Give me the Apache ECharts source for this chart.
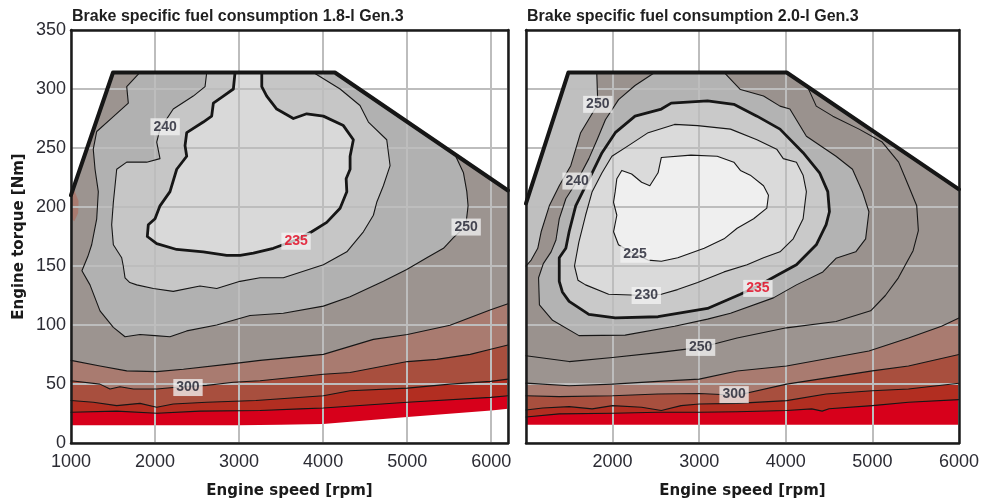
<!DOCTYPE html>
<html>
<head>
<meta charset="utf-8">
<script src="https://cdn.jsdelivr.net/npm/echarts@6/dist/echarts.min.js"></script>
<style>
  html, body { margin: 0; padding: 0; background: #ffffff; }
  #chart { width: 982px; height: 504px; }
</style>
</head>
<body>
<div id="chart"></div>
<script>
// Axis ticks
const speedTicks = [1000, 2000, 3000, 4000, 5000, 6000];
const torqueTicks = [0, 50, 100, 150, 200, 250, 300, 350];

// ---------- 1.8-l Gen.3 : [engine speed rpm, torque Nm] ----------
const g18FullLoad = [[1000,210],[1500,314],[4140,314],[6200,214]];
const g18Floor = [[1000,15],[2000,15],[3000,15],[3500,15.5],[4000,16],[5000,22],[6000,27.5],[6200,29]];
const g18LineA = [[1000,26],[1544,27],[2020,25.2],[2535,27],[3250,27.5],[3725,28.9],[4003,29.7],[5003,34.5],[5994,38.7],[6200,40]];
const g18LineB = [[1000,36],[1266,34.5],[1544,31.7],[1821,33.6],[2020,30.3],[2217,33.1],[2615,34.5],[3200,36],[4003,40.1],[4320,44.3],[5003,46.5],[5510,49.9],[5994,52.2],[6200,54.1]];
const g18Line300 = [[1000,52.7],[1345,49.9],[1464,45.7],[1583,47.7],[1742,45.7],[2020,45.7],[2217,47],[2615,48.8],[2931,51.5],[3250,52.7],[4003,58.3],[4320,59.7],[5003,69],[5352,70.9],[5750,75.1],[5994,79.4],[6200,83]];
const g18LineD = [[1000,70],[1345,65.3],[1663,61.1],[2020,60.5],[2337,62.5],[2931,67.3],[3250,70],[4003,75.1],[4598,87.8],[5003,92],[5510,99.8],[5994,113],[6200,118]];
const g18Line250 = [[1821,314],[1663,302],[1682,288],[1464,274],[1306,264],[1265,249],[1286,232],[1325,213],[1306,190],[1246,168],[1200,158],[1130,146],[1226,134],[1345,112],[1504,98],[1643,90],[1821,92],[2000,91],[2178,90],[2377,95],[2734,100],[3130,108],[3527,110],[4003,116],[4320,124],[4717,137],[4995,147],[5234,157],[5432,165],[5551,174],[5640,180],[5702,187],[5725,201],[5710,213],[5670,229],[5571,244]];
const g18Line240 = [[2615,314],[2595,302],[2455,294],[2217,283],[2059,266],[2020,255],[2059,241],[1901,238],[1663,238],[1544,232],[1524,218],[1504,204],[1484,185],[1504,168],[1603,157],[1622,150],[1643,140],[1700,136],[1782,134],[1980,131],[2217,128.5],[2535,133],[2734,131],[3011,137],[3250,140],[3527,140],[4003,151],[4282,162],[4479,179],[4598,193],[4638,204],[4717,218],[4797,235],[4757,257],[4539,272],[4439,286],[4202,300],[3884,314]];
const g18Line235 = [[2952,314],[2932,300],[2813,294],[2694,288],[2674,277],[2574,272],[2377,263],[2357,252],[2377,243],[2258,232],[2178,213],[2059,201],[2000,190],[1920,185],[1908,175],[2020,169],[2258,164],[2574,162],[2853,159],[3012,159],[3170,161],[3408,165],[3678,172],[3864,179],[4043,187],[4202,199],[4282,213],[4274,224],[4321,232],[4321,243],[4360,257],[4241,269],[4003,277],[3805,279],[3646,275],[3448,283],[3329,294],[3270,302],[3270,314]];
const g18Patch = [[1000,216],[1040,214],[1090,205],[1085,195],[1040,188],[1000,190]];
const g18Labels = [[2120,268,'240'],[3678,171,'235'],[5702,183,'250'],[2392,47,'300']];

// ---------- 2.0-l Gen.3 ----------
const g20FullLoad = [[1000,203],[1490,314],[4010,314],[6000,215]];
const g20Floor = [[1000,15.5],[6000,15.5]];
const g20LineA = [[1000,22],[1384,24.7],[2000,25.2],[2525,26],[3000,26],[3438,26.5],[4009,27.5],[4300,28.9],[4420,27],[4500,29],[4999,31.7],[5417,34.5],[6000,36.8]];
const g20LineB = [[1000,28],[1193,29.7],[1498,30.8],[1764,28.9],[2000,31.7],[2335,30.3],[2563,27.5],[2791,31.7],[3001,33.1],[3438,33.6],[4009,35.9],[4466,41.5],[4999,44.3],[5417,45.7],[6000,50.7]];
const g20Line300 = [[1000,40],[1384,39.3],[2000,40],[2525,41.5],[3001,42],[3438,40.5],[4009,49.9],[4999,61.1],[5417,65.3],[6000,75]];
const g20LineD = [[1000,50.7],[1193,49.9],[1498,48.5],[2000,49.9],[2525,52.2],[3001,54.1],[3438,61],[4009,65.3],[4960,78],[5417,89],[5798,99],[6000,106]];
const g20Line250Low = [[1000,74],[1498,69],[2000,72.4],[2525,76.6],[3016,81],[3438,89],[4009,97.6],[4580,103],[4980,112],[5150,125],[5300,140],[5470,163],[5531,180],[5512,201],[5417,218],[5303,238],[5113,255],[4846,266],[4543,277],[4352,285.5],[4250,302]];
const g20Line250High = [[1817,314],[1829,287],[1631,263],[1517,235],[1384,218],[1269,201],[1175,179],[1136,165],[1060,155],[1000,150]];
const g20Line240 = [[2487,314],[2259,303],[2069,291],[1917,274],[1821,257],[1726,241],[1590,222],[1460,207],[1384,190],[1346,172],[1290,162],[1200,152],[1145,140],[1155,117],[1307,104],[1612,91],[2145,91.4],[2716,99],[3096,105],[3362,110],[3857,123],[4123,134],[4428,145],[4580,156.5],[4808,162],[4922,173],[4960,196],[4885,213],[4770,232],[4580,243],[4238,260],[4047,283],[3933,285.5],[3743,294],[3476,299.5],[3287,314]];
const g20Line235 = [[1384,137],[1384,157],[1460,165],[1498,179],[1574,201],[1688,218],[1764,229],[1878,246],[2031,263],[2259,277],[2563,283],[2677,288],[3096,290],[3400,287],[3667,277],[3933,266],[4200,246],[4390,229],[4485,213],[4504,196],[4466,185],[4352,168],[4123,151],[3895,142],[3678,133],[3476,126],[3096,114],[2525,107],[2031,106],[1726,109],[1498,120],[1420,128]];
const g20Line230 = [[1560,150],[1600,138],[1688,134],[1954,126],[2389,125],[2563,126],[2750,130],[2982,136],[3287,145],[3553,151],[3743,157],[3933,162],[4086,173],[4200,190],[4238,213],[4200,227],[4123,238],[3971,241],[3895,249],[3667,257],[3362,266],[2982,269],[2716,270],[2411,263],[2183,252],[1992,243],[1878,229],[1764,213],[1688,193],[1610,170]];
const g20Line225 = [[2563,242],[2905,244],[3208,243],[3400,238],[3476,231],[3590,227],[3743,218],[3800,210],[3781,199],[3629,190],[3438,182],[3287,173],[3058,165],[2753,157],[2563,154],[2411,155],[2259,160],[2068,168],[2011,179],[2049,193],[2011,204],[2030,213],[2049,224],[2106,231],[2220,228],[2335,221],[2430,218],[2525,229]];
const g20Labels = [[1829,287,'250'],[1590,222,'240'],[2259,160,'225'],[2389,125,'230'],[3678,131,'235'],[3016,81,'250'],[3403,41,'300']];

// ---------- colours ----------
const C = {
  red: '#d7001b', darkRed: '#b22e21', brick: '#a84f3e', rose: '#a97b70',
  taupe: '#9c9490', taupe2: '#9a928e', g250: '#b1b1b1', g240: '#c6c6c6', g235: '#d9d9d9',
  corner: '#bfbfbf', h240: '#b3b3b3', h235: '#c9c9c9', h230: '#dadada', h225: '#efefef',
  white: '#ffffff', ink: '#161616'
};
const labelFont = "'Liberation Sans','Arial',sans-serif";
const textFont = "'Liberation Sans','Arial',sans-serif";
const nameFont = "'DejaVu Sans',sans-serif";

const closed = pts => pts.concat([pts[0]]);

function regions18() {
  const x0 = 1000, x1 = 6200, top = 350;
  return [
    { fill: C.red, pts: [[x0,0],[x1,0],[x1,top],[x0,top]] },
    { fill: C.darkRed, pts: g18LineA.concat([[x1,top],[x0,top]]) },
    { fill: C.brick, pts: g18LineB.concat([[x1,top],[x0,top]]) },
    { fill: C.rose, pts: g18Line300.concat([[x1,top],[x0,top]]) },
    { fill: C.taupe, pts: g18LineD.concat([[x1,top],[x0,top]]) },
    { fill: C.g250, pts: g18Line250.concat([[5571,340],[1821,340]]) },
    { fill: C.g240, pts: g18Line240.concat([[3884,340],[2615,340]]) },
    { fill: C.g235, pts: g18Line235.concat([[3270,340],[2952,340]]) },
    { fill: C.rose, pts: g18Patch },
    { fill: C.white, pts: g18FullLoad.concat([[x1,top],[x0,top]]) },
    { fill: C.white, pts: g18Floor.concat([[x1,0],[x0,0]]) }
  ];
}
function regions20() {
  const x0 = 1000, x1 = 6000, top = 350;
  return [
    { fill: C.red, pts: [[x0,0],[x1,0],[x1,top],[x0,top]] },
    { fill: C.darkRed, pts: g20LineA.concat([[x1,top],[x0,top]]) },
    { fill: C.brick, pts: g20LineB.concat([[x1,top],[x0,top]]) },
    { fill: C.rose, pts: g20Line300.concat([[x1,top],[x0,top]]) },
    { fill: C.taupe, pts: g20LineD.concat([[x1,top],[x0,top]]) },
    { fill: C.corner, pts: g20Line250High.concat([[1000,340],[1817,340]]) },
    { fill: C.taupe2, pts: g20Line250High.concat(g20Line250Low, [[4250,340],[1817,340]]) },
    { fill: C.h240, pts: g20Line240.concat([[3287,340],[2487,340]]) },
    { fill: C.h235, pts: g20Line235 },
    { fill: C.h230, pts: g20Line230 },
    { fill: C.h225, pts: g20Line225 },
    { fill: C.white, pts: g20FullLoad.concat([[x1,top],[x0,top]]) },
    { fill: C.white, pts: g20Floor.concat([[x1,0],[x0,0]]) }
  ];
}

function fillSeries(idx, regions) {
  return {
    type: 'custom', xAxisIndex: idx, yAxisIndex: idx, z: 1, silent: true, clip: true,
    data: regions.map((r, i) => [r.pts[0][0], r.pts[0][1], i]),
    encode: { x: 0, y: 1 },
    renderItem: (params, api) => {
      const r = regions[params.dataIndex];
      return { type: 'polygon', shape: { points: r.pts.map(p => api.coord(p)) }, style: { fill: r.fill } };
    }
  };
}
function lineSeries(idx, pts, width) {
  return {
    type: 'line', xAxisIndex: idx, yAxisIndex: idx, z: 4, silent: true,
    data: pts, showSymbol: false, symbol: 'none',
    lineStyle: { color: C.ink, width: width, join: 'round', cap: 'round' }
  };
}
function labelSeries(idx, labels) {
  return {
    type: 'scatter', xAxisIndex: idx, yAxisIndex: idx, z: 6, silent: true,
    symbolSize: 1, itemStyle: { color: 'rgba(0,0,0,0)' },
    data: labels.map(l => ({
      name: l[2], value: [l[0], l[1]],
      label: { color: l[2] === '235' ? '#e2001a' : '#1b1d2c' }
    })),
    label: {
      show: true, position: 'inside', formatter: '{b}',
      fontFamily: labelFont, fontWeight: 'bold', fontSize: 14,
      backgroundColor: 'rgba(243,243,243,0.95)', padding: [2, 3, 1, 3]
    }
  };
}

const axisInk = { color: '#1b1b1b', width: 2.5 };
const tickText = { fontFamily: textFont, fontSize: 18, color: '#2b2b33' };
const nameText = { fontFamily: nameFont, fontWeight: 'bold', fontSize: 15, color: '#1a1a1a' };

function speedAxis(grid, max, hideFirst) {
  return {
    gridIndex: grid, type: 'value', min: 1000, max: max, interval: 1000, position: 'bottom', z: 3,
    axisLine: { show: true, onZero: false, lineStyle: axisInk },
    axisTick: { show: false },
    splitLine: { show: true, lineStyle: { color: '#bdbdbd', width: 2 } },
    axisLabel: Object.assign({ margin: 10, formatter: v => (speedTicks.includes(v) && !(hideFirst && v === 1000)) ? String(v) : '' }, tickText),
    name: 'Engine speed [rpm]', nameLocation: 'middle', nameGap: 41, nameTextStyle: nameText
  };
}
function frameX(grid, max) {
  return { gridIndex: grid, type: 'value', min: 1000, max: max, position: 'top', z: 5,
    axisLine: { show: true, onZero: false, lineStyle: axisInk }, axisTick: { show: false },
    axisLabel: { show: false }, splitLine: { show: false } };
}
function torqueAxis(grid, showLabels) {
  return {
    gridIndex: grid, type: 'value', min: 0, max: 350, interval: 50, position: 'left', z: 3,
    axisLine: { show: true, onZero: false, lineStyle: axisInk },
    axisTick: { show: false },
    splitLine: { show: true, lineStyle: { color: '#bdbdbd', width: 2 } },
    axisLabel: Object.assign({ show: showLabels, margin: 5, formatter: v => torqueTicks.includes(v) ? String(v) : '' }, tickText),
    name: showLabels ? 'Engine torque [Nm]' : '', nameLocation: 'middle', nameGap: 44, nameTextStyle: nameText
  };
}
function frameY(grid) {
  return { gridIndex: grid, type: 'value', min: 0, max: 350, position: 'right', z: 5,
    axisLine: { show: true, onZero: false, lineStyle: axisInk }, axisTick: { show: false },
    axisLabel: { show: false }, splitLine: { show: false } };
}

const chart = echarts.init(document.getElementById('chart'), null, { renderer: 'canvas' });
chart.setOption({
  animation: false,
  backgroundColor: '#ffffff',
  title: [
    { text: 'Brake specific fuel consumption 1.8-l Gen.3', left: 67, top: 4,
      textStyle: { fontFamily: textFont, fontSize: 16, fontWeight: 'bold', color: '#1f1f1f' } },
    { text: 'Brake specific fuel consumption 2.0-l Gen.3', left: 522, top: 4,
      textStyle: { fontFamily: textFont, fontSize: 16, fontWeight: 'bold', color: '#1f1f1f' } }
  ],
  grid: [
    { left: 71, top: 30, width: 437, height: 416 },
    { left: 526, top: 30, width: 438, height: 416 }
  ],
  xAxis: [speedAxis(0, 6200, false), speedAxis(1, 6000, true), frameX(0, 6200), frameX(1, 6000)],
  yAxis: [torqueAxis(0, true), torqueAxis(1, false), frameY(0), frameY(1)],
  series: [
    fillSeries(0, regions18()),
    fillSeries(1, regions20()),
    lineSeries(0, g18LineA, 1.1), lineSeries(0, g18LineB, 1.1), lineSeries(0, g18Line300, 1.1), lineSeries(0, g18LineD, 1.1),
    lineSeries(0, g18Line250, 1.1), lineSeries(0, g18Line240, 1.1), lineSeries(0, g18Line235, 2.8),
    lineSeries(0, g18FullLoad, 4),
    lineSeries(1, g20LineA, 1.1), lineSeries(1, g20LineB, 1.1), lineSeries(1, g20Line300, 1.1), lineSeries(1, g20LineD, 1.1),
    lineSeries(1, g20Line250Low, 1.1), lineSeries(1, g20Line250High, 1.1), lineSeries(1, g20Line240, 1.1),
    lineSeries(1, closed(g20Line235), 2.8), lineSeries(1, closed(g20Line230), 1.1), lineSeries(1, closed(g20Line225), 1.1),
    lineSeries(1, g20FullLoad, 4),
    labelSeries(0, g18Labels),
    labelSeries(1, g20Labels)
  ]
});
</script>
</body>
</html>
